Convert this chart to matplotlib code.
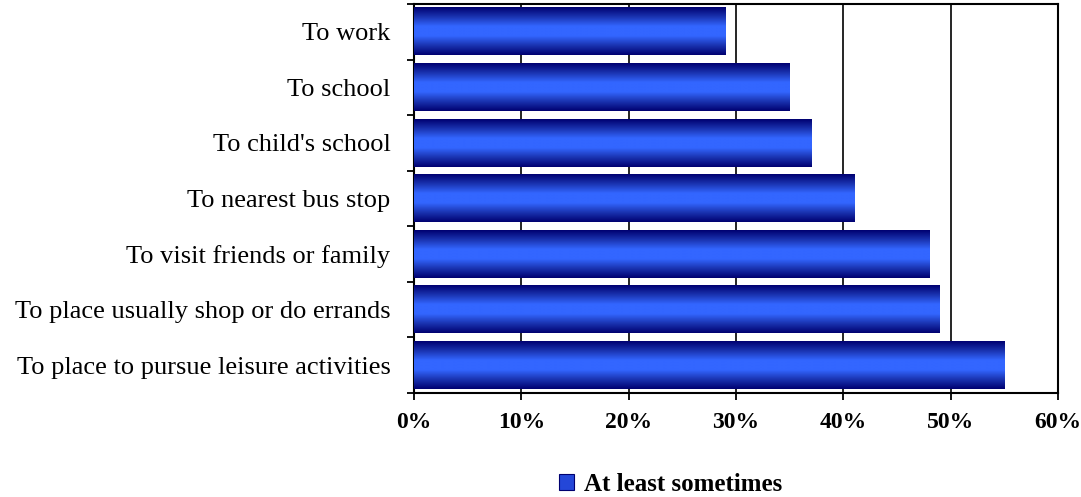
import matplotlib
matplotlib.use("Agg")
import matplotlib.pyplot as plt
import numpy as np
from matplotlib.colors import LinearSegmentedColormap
from matplotlib.patches import Rectangle

# data
destinations = [
    "To work",
    "To school",
    "To child's school",
    "To nearest bus stop",
    "To visit friends or family",
    "To place usually shop or do errands",
    "To place to pursue leisure activities",
]
at_least_sometimes = [29, 35, 37, 41, 48, 49, 55]
x_ticks = [0, 10, 20, 30, 40, 50, 60]
series_name = "At least sometimes"

plt.rcParams['font.family'] = ['Liberation Serif', 'DejaVu Serif']

fig = plt.figure(figsize=(10.81, 4.97), dpi=100)
ax = fig.add_axes([414 / 1081, 1 - 393 / 497, (1058 - 414) / 1081, (393 - 4) / 497])

# dark navy edges, bright blue middle
grad = LinearSegmentedColormap.from_list(
    'bar_grad', ['#000070', '#1a33b0', '#3366ff', '#3366ff', '#1a33b0', '#000070'])
g = np.linspace(0, 1, 256).reshape(-1, 1)

ypos = np.arange(len(destinations))
bars = ax.barh(ypos, at_least_sometimes, height=0.85, color='none', edgecolor='none', zorder=3)
for b in bars:
    x0, y0 = b.get_x(), b.get_y()
    w, h = b.get_width(), b.get_height()
    ax.imshow(g, cmap=grad, aspect='auto', extent=(x0, x0 + w, y0 + h, y0),
              zorder=3, interpolation='bilinear')

ax.set_xlim(0, 60)
ax.set_ylim(len(destinations) - 0.5, -0.5)

ax.set_xticks(x_ticks)
ax.set_xticklabels([f"{v}%" for v in x_ticks], fontsize=17, fontweight='bold')
ax.tick_params(axis='x', direction='out', length=5, width=1.3, pad=9)

ax.set_yticks(ypos)
ax.set_yticklabels(destinations, fontsize=19)
ax.tick_params(axis='y', length=0, pad=17)
ax.set_yticks(np.arange(len(destinations) + 1) - 0.5, minor=True)
ax.tick_params(axis='y', which='minor', direction='out', length=5, width=1.3)

for v in x_ticks[1:-1]:
    ax.axvline(v, color='black', lw=1.2, zorder=1)

for s in ax.spines.values():
    s.set_linewidth(1.5)
    s.set_color('black')

handle = Rectangle((0, 0), 1, 1, facecolor='#2447d8', edgecolor='#000070', lw=0.8)
fig.legend([handle], [series_name], loc='center', bbox_to_anchor=(0.62, 0.025),
           frameon=False, handlelength=0.6, handleheight=0.6, handletextpad=0.4,
           prop={'family': 'Liberation Serif', 'weight': 'bold', 'size': 18})

fig.savefig('out.png', dpi=100, facecolor='white')
